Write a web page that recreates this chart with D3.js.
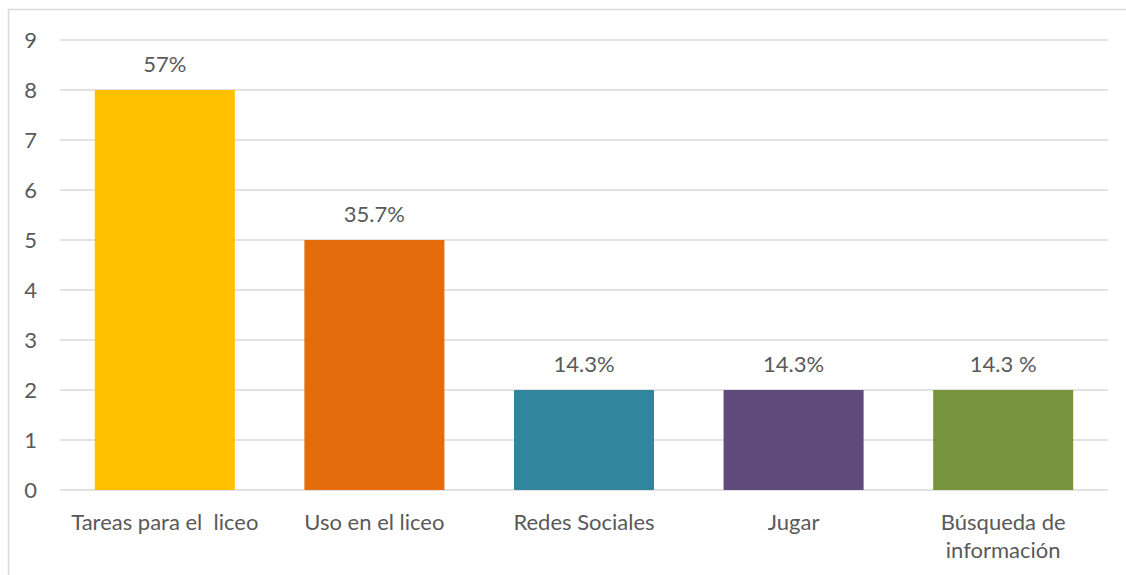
<!DOCTYPE html>
<html>
<head>
<meta charset="utf-8">
<script src="https://cdn.jsdelivr.net/npm/d3@7"></script>
<style>
  body { margin: 0; background: #fff; }
  text { font-family: Lato, "Noto Sans", sans-serif; fill: #595959; }
</style>
</head>
<body>
<svg></svg>
<script>
// chart data
var categories = ["Tareas para el  liceo", "Uso en el liceo", "Redes Sociales", "Jugar", "Búsqueda de\ninformación"];
var values = [8, 5, 2, 2, 2];
var valueLabels = ["57%", "35.7%", "14.3%", "14.3%", "14.3 %"];
var colors = ["#FFC000", "#E46C0A", "#31859C", "#604A7B", "#77933C"];
var yTicks = [0, 1, 2, 3, 4, 5, 6, 7, 8, 9];

var svgWidth = 1126;
var svgHeight = 575;
var fontSize = 22;

var svg = d3.select("svg")
  .attr("width", svgWidth)
  .attr("height", svgHeight);

// chart frame (runs off the right and bottom of the picture)
svg.append("rect")
  .attr("x", 8.5)
  .attr("y", 9.5)
  .attr("width", 1130)
  .attr("height", 600)
  .attr("fill", "none")
  .attr("stroke", "#d9d9d9")
  .attr("stroke-width", 1.5);

var x = d3.scaleBand()
  .domain(categories)
  .range([60, 1108])
  .paddingInner(0.332)
  .paddingOuter(0.166);

var y = d3.scaleLinear()
  .domain([0, 9])
  .range([490, 40]);

// gridlines
svg.selectAll("line.grid")
  .data(yTicks)
  .enter()
  .append("line")
  .attr("class", "grid")
  .attr("x1", 60)
  .attr("x2", 1108)
  .attr("y1", function(d) { return y(d); })
  .attr("y2", function(d) { return y(d); })
  .attr("stroke", "#d9d9d9")
  .attr("stroke-width", 1.5);

// y tick labels
svg.selectAll("text.ytick")
  .data(yTicks)
  .enter()
  .append("text")
  .attr("class", "ytick")
  .attr("x", 37)
  .attr("y", function(d) { return y(d); })
  .attr("dy", "0.36em")
  .attr("text-anchor", "end")
  .attr("font-size", fontSize)
  .text(function(d) { return d; });

// bars
svg.selectAll("rect.bar")
  .data(values)
  .enter()
  .append("rect")
  .attr("class", "bar")
  .attr("x", function(d, i) { return x(categories[i]); })
  .attr("width", x.bandwidth())
  .attr("y", function(d) { return y(d); })
  .attr("height", function(d) { return y(0) - y(d); })
  .attr("fill", function(d, i) { return colors[i]; });

// value labels
svg.selectAll("text.val")
  .data(values)
  .enter()
  .append("text")
  .attr("class", "val")
  .attr("x", function(d, i) { return x(categories[i]) + x.bandwidth() / 2; })
  .attr("y", function(d) { return y(d) - 18; })
  .attr("text-anchor", "middle")
  .attr("font-size", fontSize)
  .text(function(d, i) { return valueLabels[i]; });

// category labels
var cat = svg.selectAll("text.cat")
  .data(categories)
  .enter()
  .append("text")
  .attr("class", "cat")
  .attr("text-anchor", "middle")
  .attr("font-size", fontSize)
  .style("white-space", "pre")
  .attr("transform", function(d) {
    return "translate(" + (x(d) + x.bandwidth() / 2) + ",530)";
  });

cat.selectAll("tspan")
  .data(function(d) { return d.split("\n"); })
  .enter()
  .append("tspan")
  .attr("x", 0)
  .attr("y", function(d, i) { return i * 28; })
  .text(function(d) { return d; });
</script>
</body>
</html>
